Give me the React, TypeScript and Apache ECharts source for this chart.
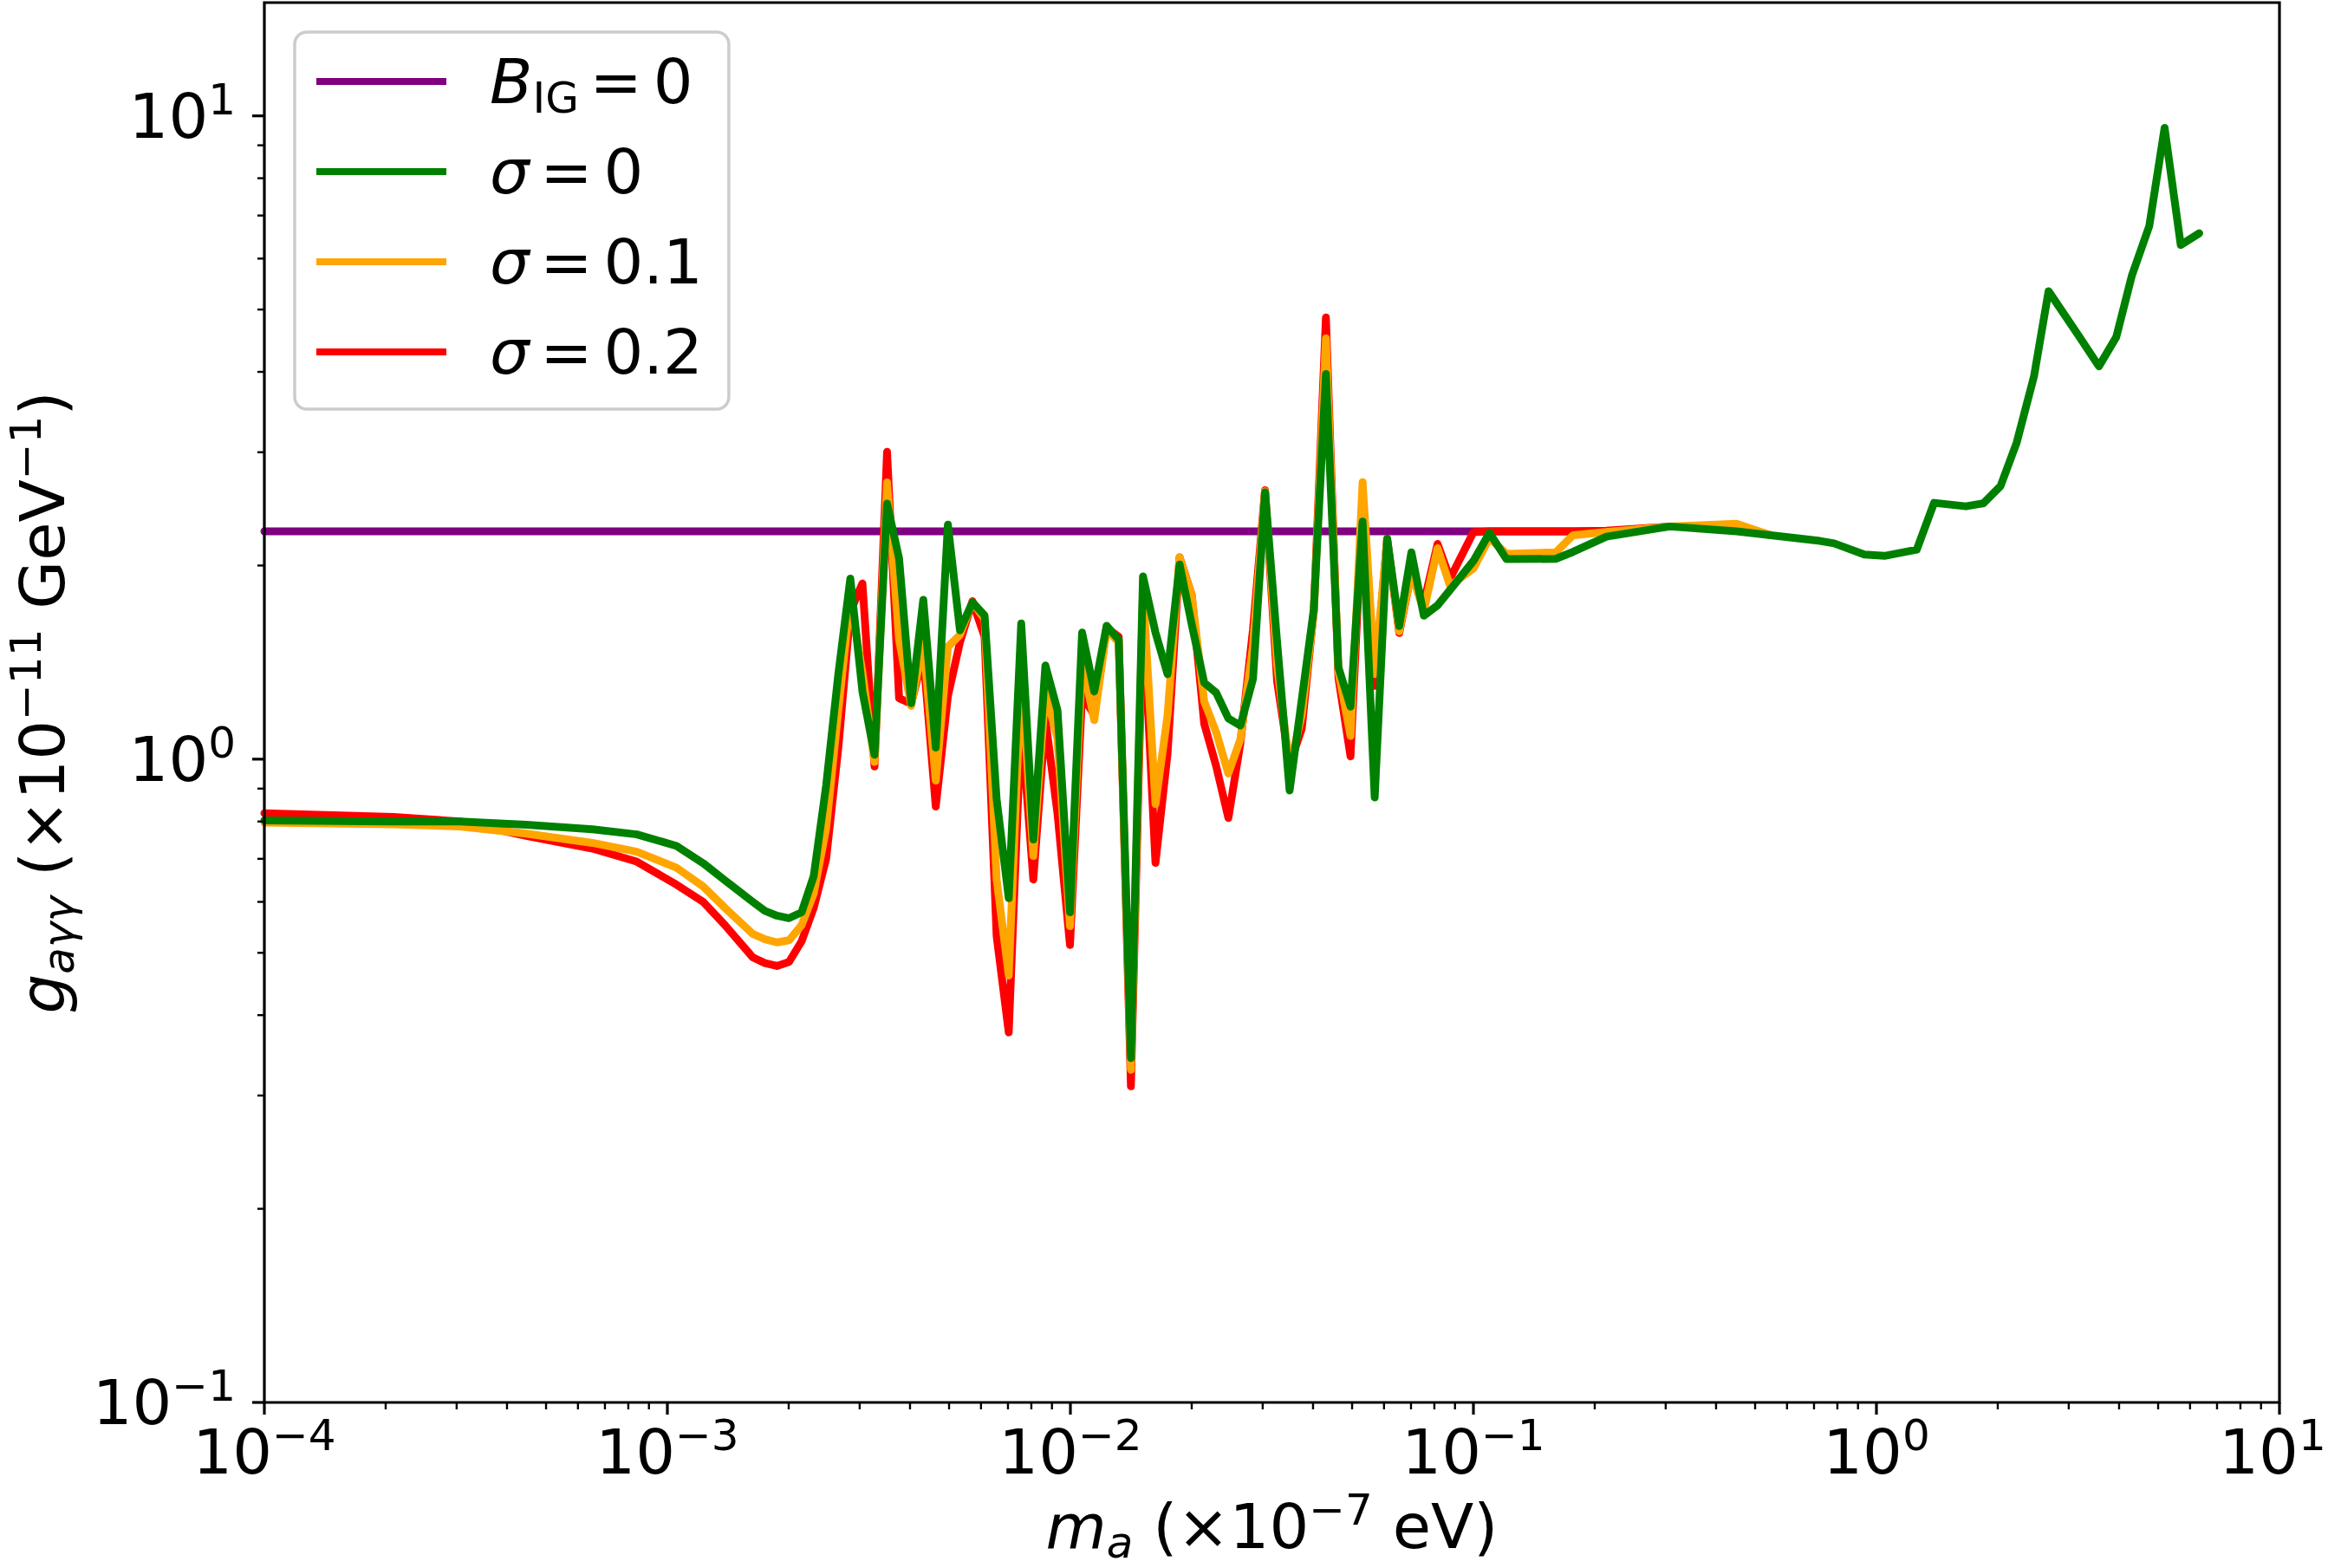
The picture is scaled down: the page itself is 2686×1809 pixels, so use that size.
import React, { useEffect, useRef } from "react";
import * as echarts from "echarts";

const FONT = '"DejaVu Sans", sans-serif';

// Axion mass grid (in units of 1e-7 eV) shared by the sigma curves
const massValues = [
  1.0e-4, 2.089e-4, 3.055e-4, 4.467e-4, 6.516e-4, 8.395e-4, 1.054e-3, 1.227e-3, 1.39e-3, 1.629e-3,
  1.746e-3, 1.871e-3, 2.004e-3, 2.153e-3, 2.307e-3, 2.477e-3, 2.655e-3, 2.844e-3, 3.048e-3, 3.266e-3,
  3.508e-3, 3.758e-3, 4.027e-3, 4.315e-3, 4.634e-3, 4.966e-3, 5.321e-3, 5.715e-3, 6.124e-3, 6.561e-3,
  7.031e-3, 7.551e-3, 8.091e-3, 8.67e-3, 9.29e-3, 9.977e-3, 1.069e-2, 1.146e-2, 1.23e-2, 1.318e-2,
  1.413e-2, 1.514e-2, 1.626e-2, 1.742e-2, 1.866e-2, 2.0e-2, 2.148e-2, 2.301e-2, 2.466e-2, 2.642e-2,
  2.838e-2, 3.041e-2, 3.258e-2, 3.499e-2, 3.75e-2, 4.018e-2, 4.305e-2, 4.624e-2, 4.955e-2, 5.309e-2,
  5.689e-2, 6.109e-2, 6.546e-2, 7.015e-2, 7.534e-2, 8.147e-2, 8.75e-2, 0.1, 0.1096, 0.1208,
  0.16, 0.1766, 0.2138, 0.3069, 0.4498, 0.547, 0.7244, 0.7852, 0.9333, 1.047,
  1.259, 1.39, 1.667, 1.841, 2.032, 2.228, 2.46, 2.673, 3.177, 3.565,
  3.936, 4.305, 4.753, 5.188, 5.689, 6.324,
];

// Coupling bound, sigma = 0
const sigma0 = [
  0.803, 0.8, 0.8, 0.791, 0.778, 0.764, 0.733, 0.689, 0.648, 0.6,
  0.581, 0.571, 0.566, 0.578, 0.658, 0.91, 1.354, 1.909, 1.274, 1.016,
  2.497, 2.05, 1.222, 1.769, 1.042, 2.315, 1.586, 1.754, 1.673, 0.866,
  0.608, 1.626, 0.75, 1.398, 1.191, 0.578, 1.573, 1.274, 1.612, 1.533,
  0.343, 1.924, 1.573, 1.356, 2.008, 1.62, 1.315, 1.268, 1.157, 1.128,
  1.332, 2.599, 1.52, 0.894, 1.237, 1.712, 3.968, 1.39, 1.207, 2.341,
  0.872, 2.202, 1.61, 2.097, 1.671, 1.734, 1.832, 2.033, 2.248, 2.046,
  2.048, 2.1, 2.218, 2.3, 2.26, 2.229, 2.184, 2.165, 2.08, 2.07,
  2.117, 2.503, 2.472, 2.498, 2.658, 3.104, 3.937, 5.34, 4.55, 4.08,
  4.53, 5.65, 6.74, 9.58, 6.3, 6.57,
];

// Coupling bound, sigma = 0.1
const sigma01 = [
  0.797, 0.792, 0.786, 0.766, 0.741, 0.718, 0.678, 0.634, 0.587, 0.535,
  0.525, 0.519, 0.523, 0.552, 0.618, 0.78, 1.19, 1.782, 1.363, 0.99,
  2.694, 1.533, 1.21, 1.52, 0.926, 1.495, 1.56, 1.754, 1.65, 0.65,
  0.461, 1.364, 0.707, 1.274, 1.077, 0.55, 1.42, 1.15, 1.59, 1.52,
  0.329, 1.84, 0.851, 1.17, 2.06, 1.8, 1.229, 1.1, 0.95, 1.074,
  1.5, 2.61, 1.4, 0.97, 1.17, 1.69, 4.51, 1.37, 1.087, 2.696,
  1.356, 2.2, 1.58, 1.95, 1.7, 2.128, 1.86, 1.979, 2.207, 2.085,
  2.096, 2.229, 2.255, 2.3, 2.323, 2.229,
];

// Coupling bound, sigma = 0.2
const sigma02 = [
  0.824, 0.813, 0.8, 0.76, 0.726, 0.693, 0.638, 0.6, 0.552, 0.492,
  0.482, 0.477, 0.484, 0.521, 0.587, 0.7, 1.04, 1.696, 1.876, 0.974,
  3.004, 1.243, 1.22, 1.45, 0.844, 1.253, 1.52, 1.76, 1.55, 0.531,
  0.376, 1.152, 0.65, 1.152, 0.823, 0.514, 1.26, 1.17, 1.6, 1.55,
  0.31, 1.725, 0.69, 1.02, 2.06, 1.8, 1.135, 0.974, 0.81, 1.06,
  1.59, 2.62, 1.32, 0.98, 1.115, 1.7, 4.86, 1.339, 1.01, 2.5,
  1.3, 2.2, 1.571, 1.95, 1.75, 2.161, 1.909, 2.253, 2.26, 2.26,
  2.26, 2.26, 2.265, 2.3, 2.3, 2.229,
];

// Bound without the intergalactic field
const noFieldMass = [1.0e-4, 0.2138];
const noFieldCoupling = [2.26, 2.26];

// Axis ranges and ticks
const X_MIN = 1e-4;
const X_MAX = 10;
const Y_MIN = 0.1;
const Y_MAX = 15;
const xMajorTicks = [1e-4, 1e-3, 1e-2, 1e-1, 1, 10];
const yMajorTicks = [0.1, 1, 10];
const minorSteps = [2, 3, 4, 5, 6, 7, 8, 9];
const xMinorTicks = xMajorTicks.slice(0, -1).flatMap((d) => minorSteps.map((m) => d * m));
const yMinorTicks = [0.1, 1].flatMap((d) => minorSteps.map((m) => d * m));

const seriesNames = ["B_IG = 0", "σ = 0", "σ = 0.1", "σ = 0.2"];
const legendRich: Record<string, string> = {
  "B_IG = 0": "{i|B}{sub|IG}{sp| }{b|=}{sp| }{b|0}",
  "σ = 0": "{i|σ}{sp| }{b|=}{sp| }{b|0}",
  "σ = 0.1": "{i|σ}{sp| }{b|=}{sp| }{b|0.1}",
  "σ = 0.2": "{i|σ}{sp| }{b|=}{sp| }{b|0.2}",
};

const rich = {
  b: { fontFamily: FONT, fontSize: 72, lineHeight: 88, color: "#000" },
  i: { fontFamily: FONT, fontSize: 72, lineHeight: 88, fontStyle: "italic", color: "#000" },
  sp: { fontFamily: FONT, fontSize: 40, lineHeight: 40, color: "#000" },
  sup: { fontFamily: FONT, fontSize: 50, lineHeight: 50, verticalAlign: "top", color: "#000" },
  // last x label sits on the right spine; extra right padding keeps it inside the canvas
  supEnd: {
    fontFamily: FONT,
    fontSize: 50,
    lineHeight: 50,
    verticalAlign: "top",
    padding: [0, 16, 0, 0],
    color: "#000",
  },
  sub: { fontFamily: FONT, fontSize: 50, lineHeight: 50, verticalAlign: "bottom", color: "#000" },
  isub: {
    fontFamily: FONT,
    fontSize: 50,
    lineHeight: 66,
    verticalAlign: "bottom",
    fontStyle: "italic",
    color: "#000",
  },
};

function powerLabel(v: number): string {
  const lg = Math.log10(v);
  const e = Math.round(lg);
  if (Math.abs(lg - e) > 1e-6) return "";
  const exp = e < 0 ? "−" + String(-e) : String(e);
  const supStyle = Math.abs(v - X_MAX) < 1e-9 ? "supEnd" : "sup";
  return `{b|10}{${supStyle}|${exp}}`;
}

function yPowerLabel(v: number): string {
  const lg = Math.log10(v);
  const e = Math.round(lg);
  if (Math.abs(lg - e) > 1e-6) return "";
  const exp = e < 0 ? "−" + String(-e) : String(e);
  return `{b|10}{sup|${exp}}`;
}

function pairs(xs: number[], ys: number[]) {
  return ys.map((y, i) => [xs[i], y]);
}

function tickSeries(axis: "x" | "y", values: number[], len: number, width: number) {
  return {
    type: "custom",
    silent: true,
    clip: false,
    z: 6,
    data: values.map((v) => (axis === "x" ? [v, Y_MIN] : [X_MIN, v])),
    encode: { x: 0, y: 1 },
    renderItem: (_p: any, api: any) => {
      const pt = api.coord([api.value(0), api.value(1)]);
      const shape =
        axis === "x"
          ? { x1: pt[0], y1: pt[1], x2: pt[0], y2: pt[1] + len }
          : { x1: pt[0] - len, y1: pt[1], x2: pt[0], y2: pt[1] };
      return { type: "line", shape, style: { stroke: "#000", lineWidth: width } };
    },
  };
}

function lineSeries(name: string, color: string, data: number[][]) {
  return {
    type: "line",
    name,
    data,
    color,
    showSymbol: false,
    symbol: "none",
    silent: true,
    itemStyle: { color },
    lineStyle: { color, width: 9, cap: "round", join: "round" },
  };
}

export default function App() {
  const ref = useRef<HTMLDivElement>(null);

  useEffect(() => {
    document.body.style.margin = "0";
    const chart = echarts.init(ref.current!, null, { renderer: "svg" });
    chart.setOption({
      animation: false,
      backgroundColor: "#ffffff",
      grid: {
        left: 305,
        right: 56,
        top: 3,
        bottom: 191,
        containLabel: false,
        outerBoundsMode: "none",
        show: true,
        borderColor: "#000",
        borderWidth: 3.2,
        backgroundColor: "transparent",
        z: 4,
      },
      xAxis: {
        type: "log",
        logBase: 10,
        min: X_MIN,
        max: X_MAX,
        axisLine: { show: false },
        axisTick: { show: false },
        splitLine: { show: false },
        axisLabel: { margin: 13, formatter: powerLabel, rich },
        name: "{i|m}{isub|a}{b| (×10}{sup|−7}{b| eV)}",
        nameLocation: "middle",
        nameGap: 99,
        nameTextStyle: { rich },
      },
      yAxis: {
        type: "log",
        logBase: 10,
        min: Y_MIN,
        max: Y_MAX,
        axisLine: { show: false },
        axisTick: { show: false },
        splitLine: { show: false },
        axisLabel: { margin: 33, formatter: yPowerLabel, rich },
        name: "{i|g}{isub|aγγ}{b| (×10}{sup|−11}{b| GeV}{sup|−1}{b|)}",
        nameLocation: "middle",
        nameGap: 212,
        nameTextStyle: { rich },
      },
      legend: {
        orient: "vertical",
        left: 340,
        top: 37,
        data: seriesNames,
        icon: "rect",
        itemWidth: 150,
        itemHeight: 8,
        itemGap: 16,
        padding: [13, 30, 22, 25],
        backgroundColor: "rgba(255,255,255,0.8)",
        borderColor: "#cccccc",
        borderWidth: 3.5,
        borderRadius: 14,
        selectedMode: false,
        formatter: (name: string) => legendRich[name] ?? name,
        textStyle: { rich, padding: [0, 0, 0, 45], fontFamily: FONT, fontSize: 72, lineHeight: 88 },
      },
      series: [
        lineSeries(seriesNames[0], "#800080", pairs(noFieldMass, noFieldCoupling)),
        lineSeries(seriesNames[3], "#ff0000", pairs(massValues, sigma02)),
        lineSeries(seriesNames[2], "#ffa500", pairs(massValues, sigma01)),
        lineSeries(seriesNames[1], "#008000", pairs(massValues, sigma0)),
        tickSeries("x", xMajorTicks, 14, 3.2),
        tickSeries("x", xMinorTicks, 8, 2.4),
        tickSeries("y", yMajorTicks, 14, 3.2),
        tickSeries("y", yMinorTicks, 8, 2.4),
      ],
    });
    return () => chart.dispose();
  }, []);

  return <div ref={ref} style={{ width: 2686, height: 1809 }} />;
}
